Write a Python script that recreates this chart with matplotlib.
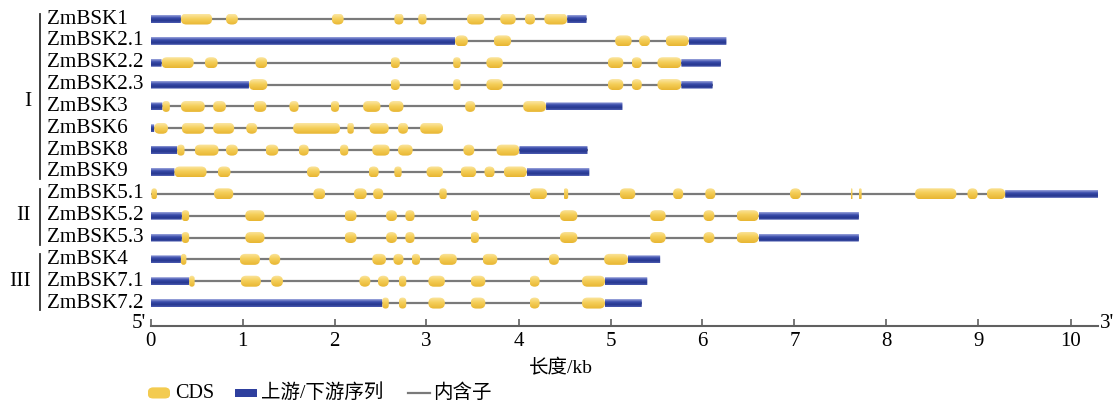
import matplotlib
matplotlib.use("Agg")
import matplotlib.pyplot as plt
import numpy as np
from matplotlib.patches import FancyBboxPatch
from matplotlib.colors import LinearSegmentedColormap
from matplotlib.transforms import blended_transform_factory
from matplotlib.lines import Line2D

plt.rcParams['font.family'] = ['Liberation Serif', 'Noto Sans CJK SC', 'DejaVu Sans']

# ---------------- data (kb) ----------------
genes = ["ZmBSK1", "ZmBSK2.1", "ZmBSK2.2", "ZmBSK2.3", "ZmBSK3", "ZmBSK6", "ZmBSK8",
         "ZmBSK9", "ZmBSK5.1", "ZmBSK5.2", "ZmBSK5.3", "ZmBSK4", "ZmBSK7.1", "ZmBSK7.2"]

ZmBSK1_utr = [(0, 0.33), (4.53, 4.74)]
ZmBSK1_cds = [(0.33, 0.67), (0.82, 0.95), (1.97, 2.10), (2.65, 2.75), (2.91, 3.00),
              (3.44, 3.63), (3.80, 3.97), (4.07, 4.18), (4.28, 4.53)]
ZmBSK2_1_utr = [(0, 3.31), (5.85, 6.26)]
ZmBSK2_1_cds = [(3.31, 3.45), (3.73, 3.92), (5.05, 5.23), (5.31, 5.43), (5.60, 5.85)]
ZmBSK2_2_utr = [(0, 0.12), (5.77, 6.20)]
ZmBSK2_2_cds = [(0.12, 0.47), (0.59, 0.73), (1.14, 1.27), (2.61, 2.71), (3.29, 3.37),
                (3.65, 3.83), (4.97, 5.14), (5.23, 5.34), (5.51, 5.77)]
ZmBSK2_3_utr = [(0, 1.07), (5.77, 6.11)]
ZmBSK2_3_cds = [(1.07, 1.27), (2.61, 2.71), (3.29, 3.37), (3.65, 3.83), (4.97, 5.14),
                (5.23, 5.34), (5.51, 5.77)]
ZmBSK3_utr = [(0, 0.13), (4.30, 5.13)]
ZmBSK3_cds = [(0.13, 0.21), (0.33, 0.59), (0.68, 0.82), (1.12, 1.26), (1.51, 1.61),
              (1.96, 2.05), (2.31, 2.50), (2.59, 2.75), (3.42, 3.53), (4.05, 4.30)]
ZmBSK6_utr = [(0, 0.04)]
ZmBSK6_cds = [(0.04, 0.19), (0.34, 0.59), (0.68, 0.91), (1.04, 1.16), (1.55, 2.06),
              (2.14, 2.21), (2.38, 2.59), (2.69, 2.80), (2.93, 3.18)]
ZmBSK8_utr = [(0, 0.29), (4.01, 4.75)]
ZmBSK8_cds = [(0.29, 0.37), (0.48, 0.74), (0.82, 0.95), (1.25, 1.39), (1.61, 1.72),
              (2.06, 2.15), (2.41, 2.60), (2.69, 2.85), (3.40, 3.52), (3.76, 4.01)]
ZmBSK9_utr = [(0, 0.26), (4.09, 4.77)]
ZmBSK9_cds = [(0.26, 0.61), (0.73, 0.87), (1.70, 1.84), (2.37, 2.48), (2.65, 2.73),
              (3.00, 3.18), (3.37, 3.54), (3.63, 3.74), (3.84, 4.09)]
ZmBSK5_1_utr = [(9.29, 10.31)]
ZmBSK5_1_cds = [(0.01, 0.07), (0.69, 0.90), (1.77, 1.90), (2.21, 2.35), (2.42, 2.53),
                (3.14, 3.22), (4.12, 4.31), (4.49, 4.54), (5.10, 5.27), (5.68, 5.79),
                (6.03, 6.14), (6.95, 7.07), (7.61, 7.63), (7.70, 7.73), (8.31, 8.76),
                (8.88, 8.99), (9.09, 9.29)]
ZmBSK5_2_utr = [(0, 0.34), (6.61, 7.70)]
ZmBSK5_2_cds = [(0.34, 0.42), (1.03, 1.24), (2.11, 2.24), (2.56, 2.68), (2.77, 2.87),
                (3.48, 3.57), (4.45, 4.64), (5.43, 5.60), (6.01, 6.13), (6.37, 6.61)]
ZmBSK5_3_utr = [(0, 0.34), (6.61, 7.70)]
ZmBSK5_3_cds = [(0.34, 0.42), (1.03, 1.24), (2.11, 2.24), (2.56, 2.68), (2.77, 2.87),
                (3.48, 3.57), (4.45, 4.64), (5.43, 5.60), (6.01, 6.13), (6.37, 6.61)]
ZmBSK4_utr = [(0, 0.33), (5.19, 5.54)]
ZmBSK4_cds = [(0.33, 0.39), (0.97, 1.19), (1.29, 1.41), (2.41, 2.56), (2.64, 2.75),
              (2.84, 2.93), (3.14, 3.33), (3.61, 3.77), (4.33, 4.44), (4.93, 5.19)]
ZmBSK7_1_utr = [(0, 0.42), (4.94, 5.40)]
ZmBSK7_1_cds = [(0.42, 0.48), (0.98, 1.20), (1.31, 1.44), (2.27, 2.39), (2.47, 2.59),
                (2.70, 2.78), (3.02, 3.20), (3.48, 3.64), (4.12, 4.23), (4.69, 4.94)]
ZmBSK7_2_utr = [(0, 2.52), (4.94, 5.34)]
ZmBSK7_2_cds = [(2.52, 2.59), (2.70, 2.78), (3.02, 3.20), (3.48, 3.64), (4.12, 4.23),
                (4.69, 4.94)]

utr_list = [ZmBSK1_utr, ZmBSK2_1_utr, ZmBSK2_2_utr, ZmBSK2_3_utr, ZmBSK3_utr, ZmBSK6_utr,
            ZmBSK8_utr, ZmBSK9_utr, ZmBSK5_1_utr, ZmBSK5_2_utr, ZmBSK5_3_utr, ZmBSK4_utr,
            ZmBSK7_1_utr, ZmBSK7_2_utr]
cds_list = [ZmBSK1_cds, ZmBSK2_1_cds, ZmBSK2_2_cds, ZmBSK2_3_cds, ZmBSK3_cds, ZmBSK6_cds,
            ZmBSK8_cds, ZmBSK9_cds, ZmBSK5_1_cds, ZmBSK5_2_cds, ZmBSK5_3_cds, ZmBSK4_cds,
            ZmBSK7_1_cds, ZmBSK7_2_cds]

groups = [("I", 0, 7), ("II", 8, 10), ("III", 11, 13)]
xticks = list(range(0, 11))

# ---------------- layout ----------------
W, H = 1118, 404
fig = plt.figure(figsize=(W / 100, H / 100), dpi=100)

PX_PER_KB = 92.0
ROW_PX = 21.85
ROW0_PX = 19.0
X0_PX = 150.5
AXIS_PX = 326.0
XMAX = 10.3
YTOP = -0.75
YBOT = (AXIS_PX - ROW0_PX) / ROW_PX

ax_left = X0_PX / W
ax_w = XMAX * PX_PER_KB / W
ax_top_px = ROW0_PX + YTOP * ROW_PX
ax_h = (AXIS_PX - ax_top_px) / H
ax = fig.add_axes([ax_left, 1 - AXIS_PX / H, ax_w, ax_h])

def fx(px):
    return px / W

def fy(py):
    return 1 - py / H

cds_cmap = LinearSegmentedColormap.from_list(
    "cds", [(0, "#fbe6a2"), (0.45, "#f5cf5a"), (1, "#e8b632")])
utr_cmap = LinearSegmentedColormap.from_list(
    "utr", [(0, "#9aa4dc"), (0.35, "#3a4cab"), (0.7, "#26378f"), (1, "#4a5ab0")])
grad = np.linspace(0, 1, 32).reshape(-1, 1)

aspect = (1 / ROW_PX) / (1 / PX_PER_KB)
CDS_H = 11.0 / ROW_PX
UTR_H = 8.0 / ROW_PX

def draw_box(x0, x1, y, h, cmap, rnd):
    w = x1 - x0
    r = min(rnd, w / 2)
    patch = FancyBboxPatch((x0, y - h / 2), w, h,
                           boxstyle=f"round,pad=0,rounding_size={r}",
                           mutation_aspect=aspect, linewidth=0,
                           facecolor="none", edgecolor="none", zorder=3)
    ax.add_patch(patch)
    im = ax.imshow(grad, cmap=cmap, aspect="auto", interpolation="bilinear",
                   extent=(x0, x1, y + h / 2, y - h / 2), zorder=3)
    im.set_clip_path(patch)

for i, g in enumerate(genes):
    segs = utr_list[i] + cds_list[i]
    start = min(s for s, e in segs)
    end = max(e for s, e in segs)
    ax.plot([start, end], [i, i], color="#7a7a7a", lw=1.6, zorder=2,
            solid_capstyle="butt")
    for s, e in utr_list[i]:
        draw_box(s, e, i, UTR_H, utr_cmap, 0.005)
    for s, e in cds_list[i]:
        draw_box(s, e, i, CDS_H, cds_cmap, 0.06)

ax.set_xlim(0, XMAX)
ax.set_ylim(YBOT, YTOP)
for sp in ["top", "right", "left"]:
    ax.spines[sp].set_visible(False)
ax.spines["bottom"].set_color("#606060")
ax.spines["bottom"].set_linewidth(1.5)
ax.set_yticks([])
ax.set_xticks(xticks)
ax.set_xticklabels([str(t) for t in xticks], fontsize=15)
ax.tick_params(axis="x", direction="in", length=5, width=1.2, color="#606060", pad=4)
ax.patch.set_visible(False)

# gene labels
tr = blended_transform_factory(fig.transFigure, ax.transData)
for i, g in enumerate(genes):
    ax.text(fx(47), i, g, transform=tr, ha="left", va="center", fontsize=15.2)

# group brackets
for name, a, b in groups:
    y_a = ROW0_PX + a * ROW_PX - 5
    y_b = ROW0_PX + b * ROW_PX + 7
    fig.add_artist(Line2D([fx(39.5), fx(39.5)], [fy(y_a), fy(y_b)], color="#303030", lw=1.3))
    yc = {"I": 101, "II": 216, "III": 282}[name]
    fig.text(fx(31), fy(yc), name, ha="right", va="center", fontsize=15.5)

# 5' / 3'
fig.text(fx(146), fy(323), "5'", ha="right", va="center", fontsize=15)
fig.text(fx(1100), fy(323), "3'", ha="left", va="center", fontsize=15)

# x label
fig.text(fx(561), fy(368), "长度/kb", ha="center", va="center", fontsize=14)

# legend
ly = 393
lax = fig.add_axes([0, 0, 1, 1])
lax.set_xlim(0, W)
lax.set_ylim(H, 0)
lax.axis("off")
lax.patch.set_visible(False)
p1 = FancyBboxPatch((148, ly - 5.5), 22, 11, boxstyle="round,pad=0,rounding_size=5",
                    linewidth=0, facecolor="#f3cb50")
lax.add_patch(p1)
im1 = lax.imshow(grad, cmap=cds_cmap, aspect="auto", extent=(148, 170, ly + 5.5, ly - 5.5))
im1.set_clip_path(p1)
p2 = FancyBboxPatch((235, ly - 4), 22, 8, boxstyle="round,pad=0,rounding_size=0.5",
                    linewidth=0, facecolor="#2e3f9e")
lax.add_patch(p2)
im2 = lax.imshow(grad, cmap=utr_cmap, aspect="auto", extent=(235, 257, ly + 4, ly - 4))
im2.set_clip_path(p2)
lax.set_xlim(0, W)
lax.set_ylim(H, 0)
lax.plot([408, 430], [ly, ly], color="#7a7a7a", lw=1.6)
lax.text(175, ly, "CDS", ha="left", va="center", fontsize=14.5)
lax.text(261, ly, "上游/下游序列", ha="left", va="center", fontsize=14)
lax.text(433, ly, "内含子", ha="left", va="center", fontsize=14)

ax.set_xlim(0, XMAX)
ax.set_ylim(YBOT, YTOP)

fig.savefig("out.png", dpi=100)
